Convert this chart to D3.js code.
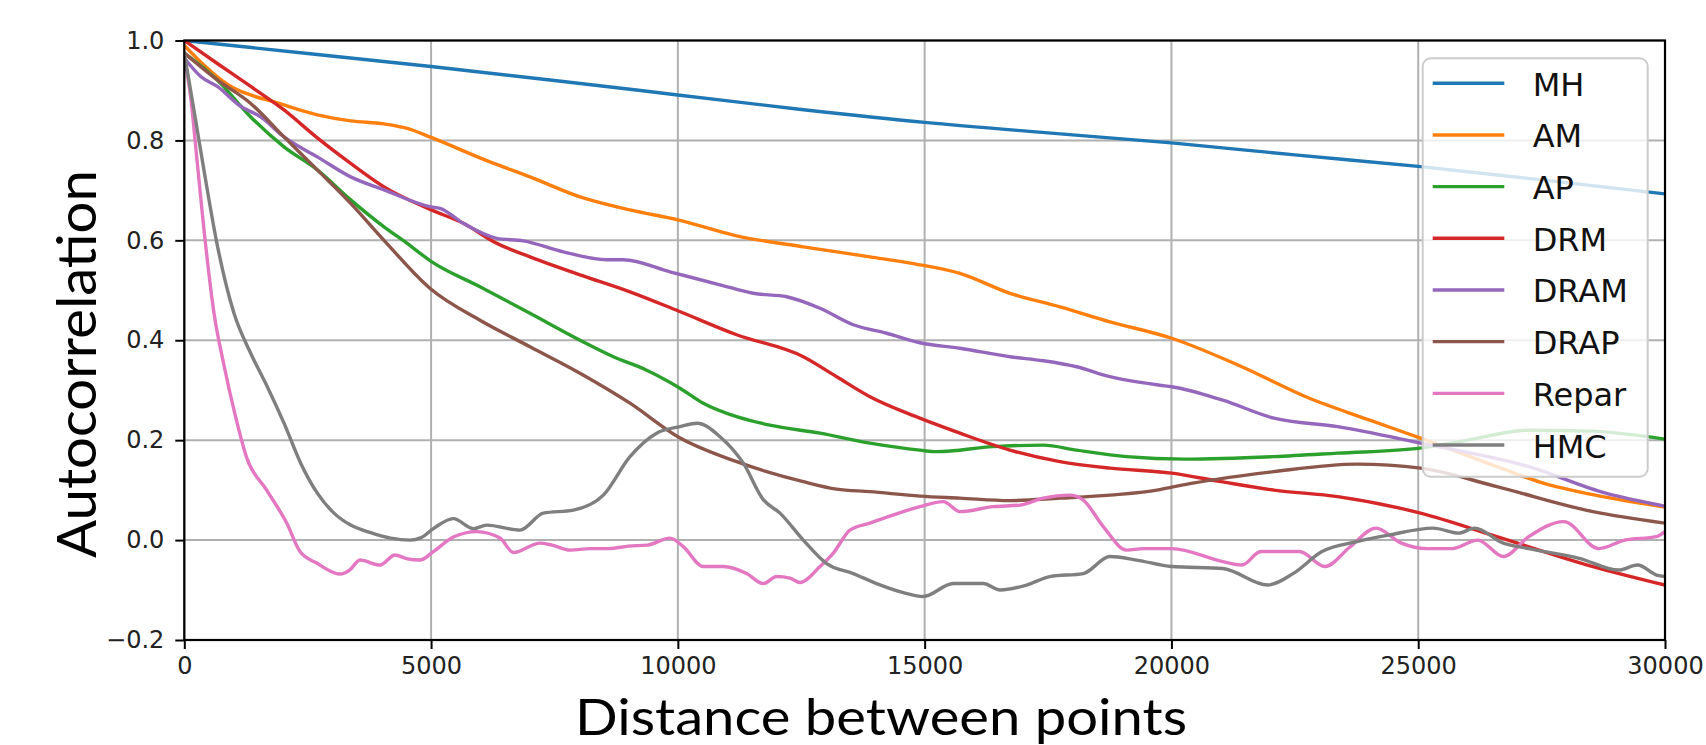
<!DOCTYPE html>
<html><head><meta charset="utf-8">
<script src="https://cdn.jsdelivr.net/npm/d3@7"></script>
<style>
html,body{margin:0;padding:0;background:#fff;}
svg{display:block;}
</style></head>
<body>
<svg id="chart" width="1706" height="745"></svg>
<script>
// ---------- data ----------
const seriesNames = ["MH","AM","AP","DRM","DRAM","DRAP","Repar","HMC"];
const seriesColors = ["#1f77b4","#ff7f0e","#2ca02c","#d62728","#9467bd","#8c564b","#e377c2","#7f7f7f"];
const xTicks = [0,5000,10000,15000,20000,25000,30000];
const yTicks = [-0.2,0.0,0.2,0.4,0.6,0.8,1.0];

const dataMH = [[0,1.0],[2500,0.974],[5000,0.948],[7500,0.92],[10000,0.891],[12500,0.862],[15000,0.836],[17500,0.815],[20000,0.795],[22500,0.771],[25000,0.748],[27500,0.721],[30000,0.693]];
const dataAM = [[0,0.99],[300,0.96],[662,0.928],[1000,0.905],[1345,0.891],[1817,0.877],[2695,0.851],[3371,0.839],[4046,0.833],[4518,0.824],[5000,0.806],[6193,0.757],[7004,0.727],[8017,0.687],[9030,0.661],[10000,0.641],[11191,0.609],[12541,0.587],[13892,0.567],[14800,0.553],[15715,0.534],[16728,0.494],[17741,0.467],[18754,0.437],[20007,0.404],[21426,0.347],[22723,0.287],[24020,0.240],[25047,0.204],[26594,0.147],[27500,0.115],[28798,0.086],[30000,0.066]];
const dataAP = [[0,0.975],[669,0.921],[1345,0.847],[2020,0.787],[2695,0.741],[3371,0.681],[4046,0.627],[4500,0.595],[5000,0.558],[5991,0.507],[7004,0.454],[8017,0.400],[8693,0.367],[9368,0.340],[10043,0.304],[10515,0.274],[11191,0.247],[11866,0.230],[12879,0.214],[13892,0.194],[14905,0.180],[15242,0.177],[16390,0.187],[17403,0.190],[18079,0.180],[19092,0.167],[20266,0.162],[22076,0.167],[23368,0.174],[25047,0.184],[26000,0.200],[27240,0.220],[28500,0.218],[30000,0.202]];
const dataDRM = [[0,1.0],[669,0.954],[1345,0.908],[2020,0.861],[2695,0.805],[3371,0.754],[4046,0.707],[5000,0.661],[5653,0.634],[6329,0.594],[7004,0.567],[8017,0.531],[9030,0.497],[10000,0.459],[11191,0.411],[12541,0.367],[13217,0.327],[13892,0.287],[14800,0.248],[15715,0.214],[16728,0.180],[17741,0.157],[18754,0.144],[20007,0.134],[21000,0.117],[22076,0.100],[23368,0.087],[25047,0.054],[26594,0.007],[28540,-0.053],[30000,-0.090]];
const dataDRAM = [[0,0.965],[332,0.928],[669,0.908],[1143,0.868],[1548,0.847],[2020,0.807],[2695,0.767],[3371,0.727],[4046,0.701],[5000,0.667],[5180,0.664],[5653,0.634],[6329,0.604],[6869,0.599],[7679,0.577],[8558,0.561],[8895,0.561],[9840,0.537],[10853,0.511],[11529,0.494],[12204,0.487],[12879,0.464],[13554,0.431],[14229,0.414],[14905,0.395],[15715,0.384],[16728,0.367],[17403,0.359],[18079,0.347],[18754,0.327],[19767,0.310],[20007,0.307],[21040,0.280],[22076,0.244],[23368,0.227],[25047,0.194],[27240,0.147],[28798,0.094],[30000,0.068]];
const dataDRAP = [[0,0.975],[669,0.921],[1345,0.874],[2020,0.807],[2695,0.741],[3371,0.674],[4046,0.600],[5000,0.502],[5991,0.440],[7004,0.387],[8017,0.334],[9030,0.274],[10000,0.207],[11191,0.157],[12541,0.117],[13217,0.102],[13892,0.097],[14905,0.088],[15715,0.084],[16728,0.079],[17741,0.084],[18754,0.090],[19767,0.101],[20007,0.106],[22076,0.137],[23758,0.152],[25047,0.144],[26594,0.107],[28540,0.057],[30000,0.034]];
const dataRepar = [[0,0.965],[129,0.887],[264,0.754],[399,0.621],[602,0.454],[804,0.35],[1007,0.26],[1264,0.165],[1669,0.100],[2075,0.034],[2344,-0.023],[2682,-0.046],[3155,-0.068],[3350,-0.06],[3560,-0.040],[3965,-0.050],[4269,-0.030],[4500,-0.037],[4776,-0.040],[5046,-0.023],[5451,0.006],[5924,0.017],[6397,0.004],[6671,-0.025],[7207,-0.006],[7446,-0.010],[7815,-0.020],[8220,-0.017],[8605,-0.017],[9000,-0.012],[9385,-0.010],[9840,0.004],[10110,-0.013],[10515,-0.053],[10920,-0.053],[11393,-0.067],[11731,-0.087],[12001,-0.073],[12272,-0.076],[12474,-0.085],[12879,-0.053],[13150,-0.026],[13487,0.020],[13892,0.034],[14567,0.057],[14905,0.067],[15378,0.077],[15715,0.057],[16390,0.067],[16931,0.070],[17403,0.084],[17944,0.090],[18214,0.080],[18619,0.027],[19092,-0.020],[19430,-0.017],[20007,-0.017],[21040,-0.043],[21426,-0.050],[21813,-0.023],[22594,-0.023],[23110,-0.053],[23626,-0.013],[24142,0.024],[24659,-0.006],[25175,-0.017],[25692,-0.017],[26207,0.000],[26724,-0.033],[27240,0.007],[27950,0.037],[28660,-0.017],[29186,0.000],[29826,0.007],[30000,0.017]];
const dataHMC = [[0,0.975],[197,0.86],[399,0.74],[669,0.59],[1007,0.454],[1345,0.374],[1682,0.307],[2020,0.234],[2358,0.154],[2695,0.094],[3033,0.054],[3371,0.030],[3776,0.015],[4181,0.004],[4573,0.000],[4800,0.005],[5046,0.023],[5451,0.043],[5856,0.023],[6127,0.030],[6802,0.020],[7274,0.054],[7882,0.060],[8490,0.090],[9030,0.167],[9570,0.214],[10043,0.227],[10393,0.234],[10853,0.207],[11326,0.154],[11731,0.081],[12069,0.054],[12541,0.000],[13014,-0.047],[13554,-0.067],[14027,-0.087],[14567,-0.105],[14972,-0.113],[15580,-0.087],[16188,-0.087],[16526,-0.100],[17066,-0.090],[17539,-0.073],[18214,-0.067],[18754,-0.033],[19295,-0.040],[20007,-0.053],[21040,-0.057],[21950,-0.090],[22466,-0.067],[23050,-0.023],[23758,-0.003],[24400,0.010],[25300,0.024],[25820,0.014],[26142,0.024],[26724,-0.006],[27240,-0.017],[28280,-0.037],[29058,-0.060],[29444,-0.050],[29830,-0.070],[30000,-0.073]];

const seriesData = [dataMH,dataAM,dataAP,dataDRM,dataDRAM,dataDRAP,dataRepar,dataHMC];

// ---------- layout ----------
const plot = {left:184.3, right:1665, top:40.5, bottom:640};
const svg = d3.select("#chart");

const x = d3.scaleLinear().domain([0,30000]).range([plot.left, plot.right]);
const y = d3.scaleLinear().domain([-0.2,1.0]).range([plot.bottom, plot.top]);

svg.append("defs").append("clipPath").attr("id","clip")
  .append("rect").attr("x",plot.left).attr("y",plot.top)
  .attr("width",plot.right-plot.left).attr("height",plot.bottom-plot.top);

// grid
const grid = svg.append("g");
grid.selectAll("line.gx").data(xTicks).join("line")
  .attr("x1",d=>x(d)).attr("x2",d=>x(d)).attr("y1",plot.top).attr("y2",plot.bottom)
  .attr("stroke","#b0b0b0").attr("stroke-width",2);
grid.selectAll("line.gy").data(yTicks).join("line")
  .attr("y1",d=>y(d)).attr("y2",d=>y(d)).attr("x1",plot.left).attr("x2",plot.right)
  .attr("stroke","#b0b0b0").attr("stroke-width",2);

// lines
const linesG = svg.append("g").attr("clip-path","url(#clip)");
seriesData.forEach((data,i)=>{
  const gen = d3.line().x(d=>x(d[0])).y(d=>y(d[1])).curve(d3.curveMonotoneX);
  linesG.append("path").datum(data).attr("d",gen)
    .attr("fill","none").attr("stroke",seriesColors[i])
    .attr("stroke-width",3.4).attr("stroke-linejoin","round").attr("stroke-linecap","round");
});

// axes
const tickFont = "'DejaVu Sans', sans-serif";
const xAxis = d3.axisBottom(x).tickValues(xTicks).tickFormat(d3.format("d")).tickSize(9).tickPadding(8);
const gx = svg.append("g").attr("transform",`translate(0,${plot.bottom})`).call(xAxis);
const yAxis = d3.axisLeft(y).tickValues(yTicks).tickFormat(d=> d<0 ? "\u2212"+Math.abs(d).toFixed(1) : d.toFixed(1)).tickSize(9).tickPadding(11);
const gy = svg.append("g").attr("transform",`translate(${plot.left},0)`).call(yAxis);
[gx,gy].forEach(g=>{
  g.select(".domain").remove();
  g.selectAll(".tick line").attr("stroke","#000").attr("stroke-width",2);
  g.selectAll(".tick text").attr("fill","#222").style("font-family",tickFont).style("font-size","24px");
});

// frame
svg.append("rect").attr("x",plot.left).attr("y",plot.top)
  .attr("width",plot.right-plot.left).attr("height",plot.bottom-plot.top)
  .attr("fill","none").attr("stroke","#000").attr("stroke-width",2.2);

// axis labels
const labelFont = "Lato, 'Open Sans', sans-serif";
svg.append("text").attr("x",881).attr("y",735).attr("text-anchor","middle")
  .style("font-family",labelFont).style("font-size","50px").attr("fill","#000")
  .attr("textLength",612).attr("lengthAdjust","spacingAndGlyphs")
  .text("Distance between points");
svg.append("text").attr("transform","translate(96,364) rotate(-90)").attr("text-anchor","middle")
  .style("font-family",labelFont).style("font-size","55px").attr("fill","#000")
  .attr("textLength",388).attr("lengthAdjust","spacingAndGlyphs")
  .text("Autocorrelation");

// legend
const leg = svg.append("g");
leg.append("rect").attr("x",1422.7).attr("y",58.3).attr("width",225).attr("height",418.4)
  .attr("rx",8).attr("fill","#fff").attr("fill-opacity",0.8)
  .attr("stroke","#cccccc").attr("stroke-width",2);
const legY = d3.scaleLinear().domain([0,7]).range([83.3,445]);
seriesNames.forEach((n,i)=>{
  const yy = legY(i);
  leg.append("line").attr("x1",1432.7).attr("x2",1504.3).attr("y1",yy).attr("y2",yy)
    .attr("stroke",seriesColors[i]).attr("stroke-width",3.4);
  leg.append("text").attr("x",1532.7).attr("y",yy+12.5)
    .style("font-family",tickFont).style("font-size","32px").attr("fill","#111").text(n);
});
</script>
</body></html>
